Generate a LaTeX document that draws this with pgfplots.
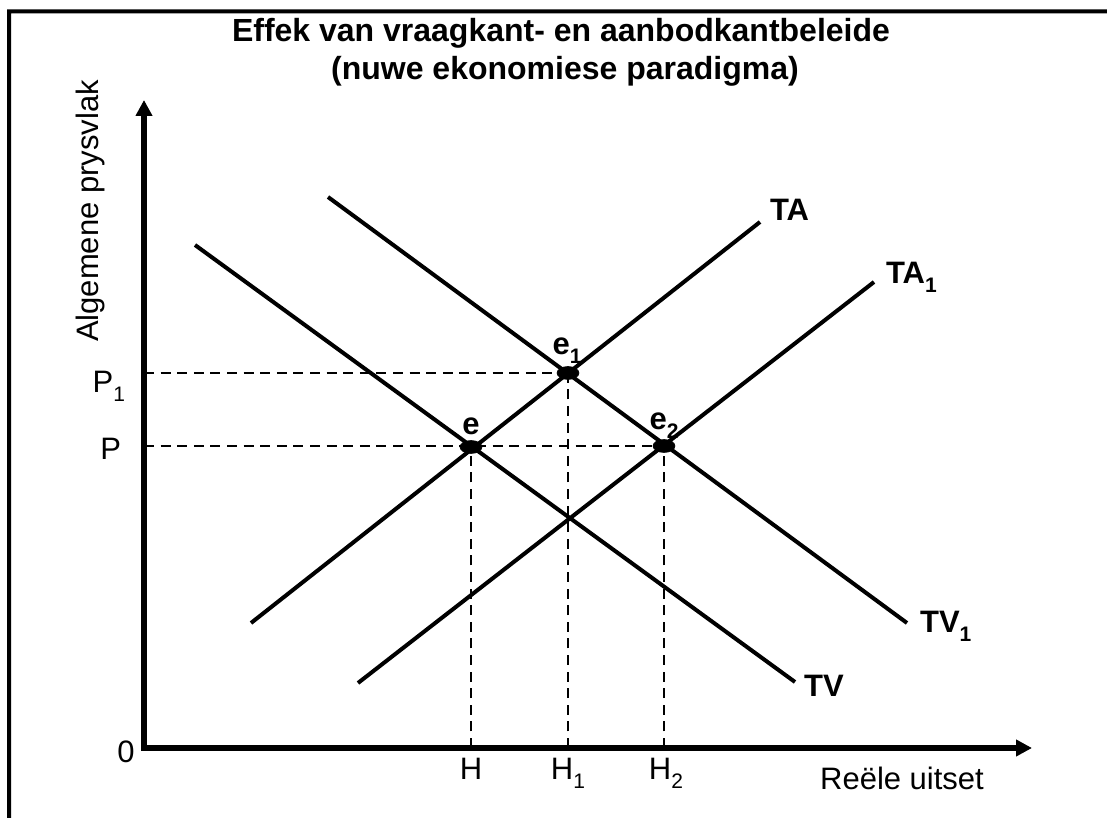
\documentclass[border=0pt]{standalone}
\usepackage{fontspec}
\setmainfont{Liberation Sans}
\usepackage{pgfplots}
\pgfplotsset{compat=1.18}
\usetikzlibrary{arrows.meta}
\newcommand{\fs}{\fontsize{15.5}{18}\selectfont}
\newcommand{\ft}{\fontsize{16}{19}\selectfont\bfseries}
\newcommand{\sub}[1]{\raisebox{-0.28em}{\fontsize{10.5}{12}\selectfont #1}}
\begin{document}
\begin{tikzpicture}
\begin{axis}[
  x=0.5pt, y=0.5pt,
  xmin=-144, xmax=963, ymin=-70, ymax=748,
  hide axis, clip=false,
]
\coordinate (SW) at (rel axis cs:0,0);
\coordinate (NE) at (rel axis cs:1,1);
% frame (L-shaped)
\fill[black] (axis cs:-137,-70) -- (axis cs:-137,738.7) -- (axis cs:963,738.7) -- (axis cs:963,734.7)
  -- (axis cs:-133,734.7) -- (axis cs:-133,-70) -- cycle;
% axes
\draw[line width=2.75pt, line join=miter, {Triangle[length=8pt,width=8pt]}-{Triangle[length=8pt,width=8pt]}]
  (axis cs:0,648) -- (axis cs:0,0) -- (axis cs:888,0);
% dashed guides
\addplot[line width=1pt, dash pattern=on 5pt off 3.3pt] coordinates {(0,302) (520,302)};
\addplot[line width=1pt, dash pattern=on 5pt off 3.3pt] coordinates {(0,375) (424,375)};
\addplot[line width=1pt, dash pattern=on 5pt off 3.3pt] coordinates {(327,0) (327,301)};
\addplot[line width=1pt, dash pattern=on 5pt off 3.3pt] coordinates {(424,0) (424,375)};
\addplot[line width=1pt, dash pattern=on 5pt off 3.3pt] coordinates {(520,0) (520,302)};
% curves
\addplot[line width=2pt] coordinates {(51,503) (651,66)};   % TV
\addplot[line width=2pt] coordinates {(184,551) (763,125)}; % TV1
\addplot[line width=2pt] coordinates {(107,125) (616,526)}; % TA
\addplot[line width=2pt] coordinates {(214,65) (730,466)};  % TA1
% equilibria
\addplot[only marks, mark=*, mark size=3.2pt, mark options={xscale=1.7, fill=black}] coordinates {(327,301) (424,375) (520,302)};
% labels
\node[anchor=base, font=\ft] at (axis cs:417,706) {Effek van vraagkant- en aanbodkantbeleide};
\node[anchor=base, font=\ft] at (axis cs:421,668) {(nuwe ekonomiese paradigma)};
\node[anchor=base, rotate=90, font=\fs] at (axis cs:-46,537) {Algemene prysvlak};
\node[anchor=base, font=\fs] at (axis cs:758,-42) {Reële uitset};
\node[anchor=base, font=\fs] at (axis cs:-18,-15) {0};
\node[anchor=base, font=\fs] at (axis cs:327,-32) {H};
\node[anchor=base, font=\fs] at (axis cs:424,-32) {H\sub{1}};
\node[anchor=base, font=\fs] at (axis cs:522,-32) {H\sub{2}};
\node[anchor=base east, font=\fs] at (axis cs:-16,288) {P};
\node[anchor=base east, font=\fs] at (axis cs:-12,355) {P\sub{1}};
\node[anchor=base, font=\fs\bfseries] at (axis cs:327,313) {e};
\node[anchor=base, font=\fs\bfseries] at (axis cs:423,393) {e\sub{\bfseries 1}};
\node[anchor=base, font=\fs\bfseries] at (axis cs:520,318) {e\sub{\bfseries 2}};
\node[anchor=base west, font=\fs\bfseries] at (axis cs:619,527) {TA};
\node[anchor=base west, font=\fs\bfseries] at (axis cs:735,464) {TA\sub{\bfseries 1}};
\node[anchor=base west, font=\fs\bfseries] at (axis cs:769,115) {TV\sub{\bfseries 1}};
\node[anchor=base west, font=\fs\bfseries] at (axis cs:653,51) {TV};
\end{axis}
\pgfresetboundingbox
\path (SW) rectangle (NE);
\end{tikzpicture}
\end{document}
